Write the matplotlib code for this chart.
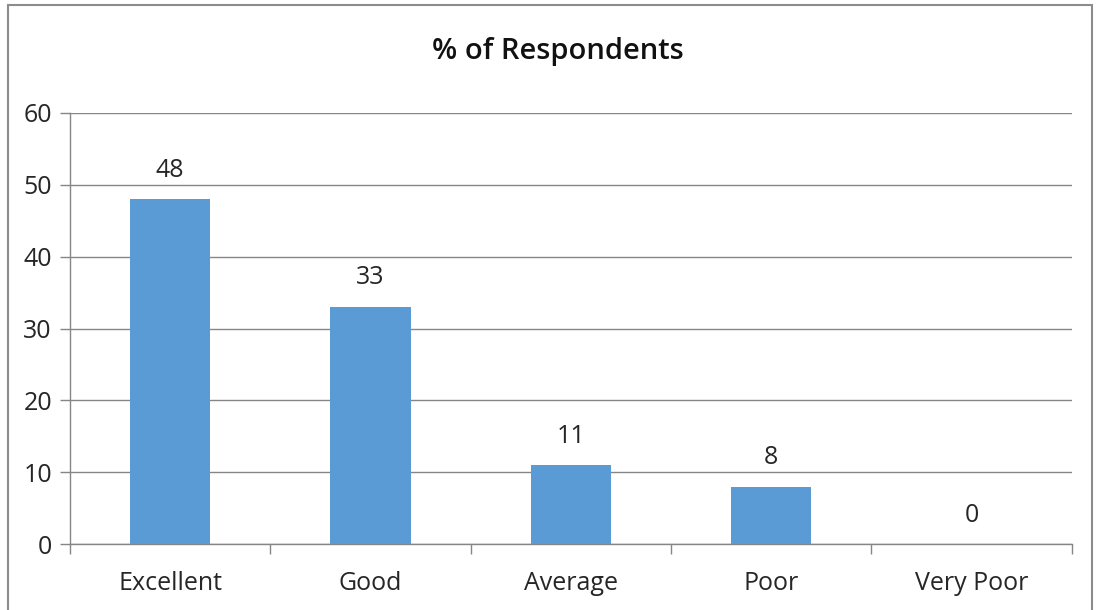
import matplotlib.pyplot as plt
import numpy as np
from matplotlib.patches import Rectangle

categorias = ['Excellent', 'Good', 'Average', 'Poor', 'Very Poor']
porcentajes = [48, 33, 11, 8, 0]
yticks = [0, 10, 20, 30, 40, 50, 60]

plt.rcParams['font.family'] = ['Open Sans', 'DejaVu Sans']

fig = plt.figure(figsize=(10.97, 6.10), dpi=100)
ax = fig.add_axes([0.0638, 0.108, 0.9132, 0.7068])

gris = '#868686'
texto = '#262626'
x = np.arange(len(categorias))
ax.bar(x, porcentajes, width=0.4, color='#5B9BD5', zorder=3)

for xi, v in zip(x, porcentajes):
    ax.text(xi, v + 2.3, str(v), ha='center', va='bottom', fontsize=18, color=texto)

ax.set_xlim(-0.5, len(categorias) - 0.5)
ax.set_ylim(0, 60)
ax.set_yticks(yticks)
ax.yaxis.grid(True, color=gris, linewidth=1, zorder=0)

ax.set_xticks(x)
ax.set_xticklabels(categorias, fontsize=18, color=texto)
ax.set_xticks(np.arange(-0.5, len(categorias)), minor=True)
ax.tick_params(axis='x', which='major', length=0, pad=19)
ax.tick_params(axis='x', which='minor', length=7, color=gris, width=1)
ax.tick_params(axis='y', length=7, color=gris, width=1, labelsize=18, labelcolor=texto, pad=6)

for s in ['top', 'right']:
    ax.spines[s].set_visible(False)
for s in ['left', 'bottom']:
    ax.spines[s].set_color(gris)
    ax.spines[s].set_linewidth(1)

fig.text(0.509, 0.916, '% of Respondents', ha='center', va='center', fontsize=21,
         weight='semibold', color='#111111')

# marco del gráfico
borde = Rectangle((8 / 1097, -0.05), (1092 - 8) / 1097, 1.05 - 5 / 610,
                  transform=fig.transFigure, fill=False, edgecolor='#8c8c8c',
                  linewidth=1.5, clip_on=False)
fig.patches.append(borde)

fig.savefig('out.png', dpi=100)
